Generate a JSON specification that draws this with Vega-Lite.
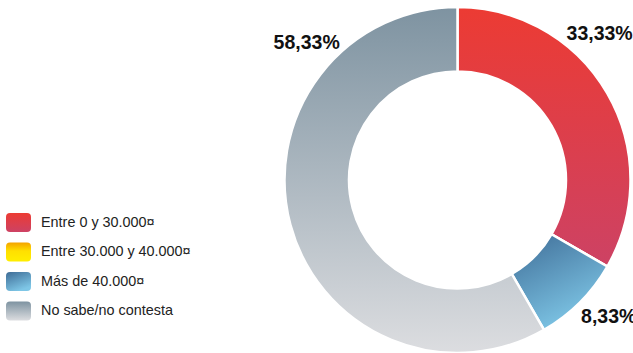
{
  "$schema": "https://vega.github.io/schema/vega-lite/v6.json",
  "width": 346,
  "height": 346,
  "autosize": {"type": "none"},
  "padding": {"left": 284.5, "top": 7, "right": 3, "bottom": 0},
  "background": "white",
  "config": {"view": {"stroke": null}},
  "data": {
    "values": [
      {"categoria": "Entre 0 y 30.000¤", "porcentaje": 33.33, "etiqueta": "33,33%"},
      {"categoria": "Entre 30.000 y 40.000¤", "porcentaje": 0, "etiqueta": "0,00%"},
      {"categoria": "Más de 40.000¤", "porcentaje": 8.33, "etiqueta": "8,33%"},
      {"categoria": "No sabe/no contesta", "porcentaje": 58.33, "etiqueta": "58,33%"}
    ]
  },
  "layer": [
    {
      "mark": {"type": "arc", "innerRadius": 108.5, "outerRadius": 173, "stroke": "white", "strokeWidth": 2.5},
      "encoding": {
        "theta": {"field": "porcentaje", "type": "quantitative", "stack": true, "scale": {"domain": [0, 99.99]}},
        "order": {"field": "categoria", "type": "ordinal", "sort": "ascending"},
        "color": {
          "field": "categoria",
          "type": "nominal",
          "scale": {
            "domain": ["Entre 0 y 30.000¤", "Entre 30.000 y 40.000¤", "Más de 40.000¤", "No sabe/no contesta"],
            "range": [
              {"expr": "{gradient: 'linear', x1: 0, y1: 0, x2: 0, y2: 1, stops: [{offset: 0, color: '#EC3B33'}, {offset: 1, color: '#CD4264'}]}"},
              {"expr": "{gradient: 'linear', x1: 0, y1: 0, x2: 0, y2: 1, stops: [{offset: 0, color: '#F4A300'}, {offset: 0.45, color: '#FFE000'}, {offset: 1, color: '#FFEE00'}]}"},
              {"expr": "{gradient: 'linear', x1: 0, y1: 0, x2: 0.5, y2: 1, stops: [{offset: 0, color: '#3E6C96'}, {offset: 1, color: '#7EC6E6'}]}"},
              {"expr": "{gradient: 'linear', x1: 0, y1: 0, x2: 0, y2: 1, stops: [{offset: 0, color: '#7E93A1'}, {offset: 1, color: '#DCDDE0'}]}"}
            ]
          },
          "legend": {
            "orient": "none",
            "legendX": -278.5,
            "legendY": 203,
            "title": null,
            "symbolType": "M-0.68,-0.76H0.68Q1,-0.76 1,-0.44V0.44Q1,0.76 0.68,0.76H-0.68Q-1,0.76 -1,0.44V-0.44Q-1,-0.76 -0.68,-0.76Z",
            "symbolSize": 625,
            "symbolStrokeWidth": 0,
            "symbolOpacity": 1,
            "labelFont": "Liberation Sans",
            "labelFontSize": 14.4,
            "labelColor": "#222222",
            "labelOffset": 10,
            "rowPadding": 7.5,
            "labelLimit": 300
          }
        }
      }
    },
    {
      "transform": [{"filter": "datum.porcentaje > 0"}],
      "mark": {"type": "text", "radius": 204, "font": "Liberation Sans", "fontSize": 19.5, "fontWeight": "bold", "align": "center", "baseline": "middle", "color": "#111111"},
      "encoding": {
        "theta": {"field": "porcentaje", "type": "quantitative", "stack": true, "scale": {"type": "pow", "exponent": 1.352, "domain": [0, 100], "range": [0, 8.69]}},
        "order": {"field": "categoria", "type": "ordinal", "sort": "ascending"},
        "text": {"field": "etiqueta", "type": "nominal"}
      }
    }
  ],
  "resolve": {"scale": {"theta": "independent"}}
}
